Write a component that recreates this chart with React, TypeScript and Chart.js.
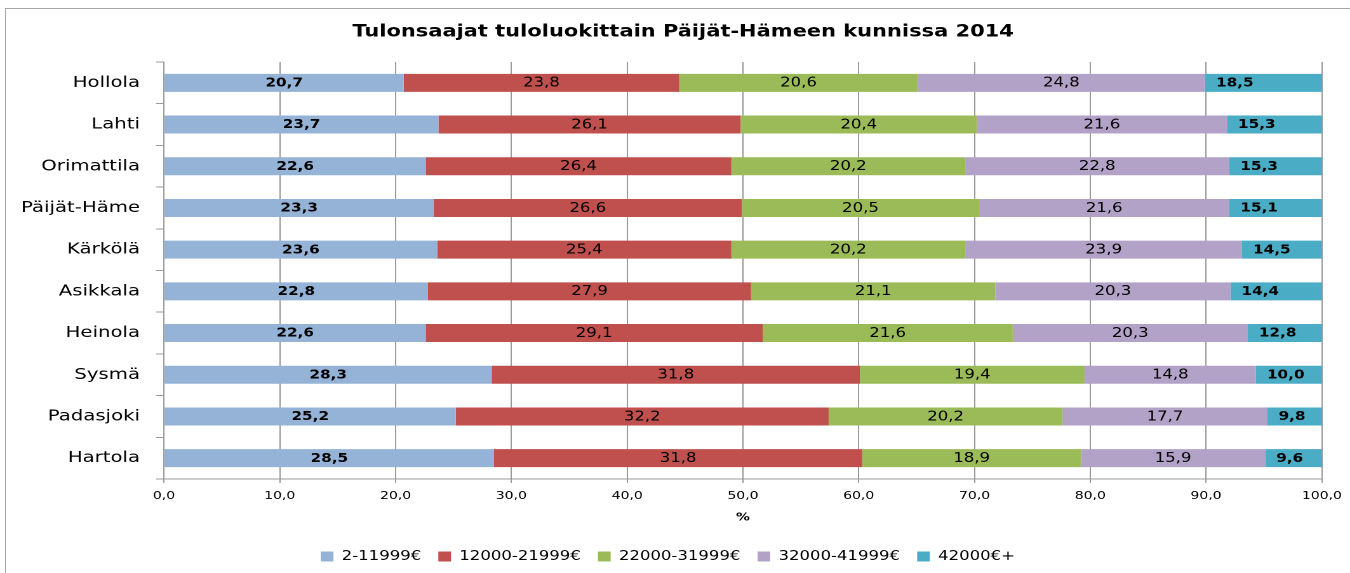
import React, { useEffect, useRef } from 'react';
import { Chart, registerables } from 'chart.js';

Chart.register(...registerables);

// ---- data ----
const categories = ['Hollola', 'Lahti', 'Orimattila', 'Päijät-Häme', 'Kärkölä', 'Asikkala', 'Heinola', 'Sysmä', 'Padasjoki', 'Hartola'];
const seriesNames = ['2-11999€', '12000-21999€', '22000-31999€', '32000-41999€', '42000€+'];
const series1 = [20.7, 23.7, 22.6, 23.3, 23.6, 22.8, 22.6, 28.3, 25.2, 28.5];
const series2 = [23.8, 26.1, 26.4, 26.6, 25.4, 27.9, 29.1, 31.8, 32.2, 31.8];
const series3 = [20.6, 20.4, 20.2, 20.5, 20.2, 21.1, 21.6, 19.4, 20.2, 18.9];
const series4 = [24.8, 21.6, 22.8, 21.6, 23.9, 20.3, 20.3, 14.8, 17.7, 15.9];
const series5 = [18.5, 15.3, 15.3, 15.1, 14.5, 14.4, 12.8, 10.0, 9.8, 9.6];
const chartTitle = 'Tulonsaajat tuloluokittain Päijät-Hämeen kunnissa 2014';
const xAxisTitle = '%';
const xMin = 0;
const xMax = 100;
const xStep = 10;

const seriesColors = ['#95B3D7', '#C0504D', '#9BBB59', '#B3A2C7', '#4BACC6'];
const boldLabelSeries = [true, false, false, false, true];
const baseAlignedSeries = [false, false, false, false, true];

// horizontal stretch of the original picture
const STRETCH = 1.27;
const W = 1350 / STRETCH;
const H = 573;
const FONT = "'DejaVu Sans', sans-serif";

const fmt = (v: number) => v.toFixed(1).replace('.', ',');

const labelPlugin = {
  id: 'segLabels',
  afterDatasetsDraw(chart: any) {
    const { ctx, chartArea } = chart;
    ctx.save();
    chart.data.datasets.forEach((ds: any, di: number) => {
      const meta = chart.getDatasetMeta(di);
      if (meta.hidden) return;
      meta.data.forEach((el: any, i: number) => {
        const v = ds.data[i];
        const x0 = Math.max(Math.min(el.base, el.x), chartArea.left);
        const x1 = Math.min(Math.max(el.base, el.x), chartArea.right);
        if (x1 <= x0) return;
        const bold = boldLabelSeries[di];
        ctx.font = bold ? `bold 12px ${FONT}` : `13px ${FONT}`;
        ctx.fillStyle = '#000';
        ctx.textBaseline = 'middle';
        if (baseAlignedSeries[di]) {
          ctx.textAlign = 'left';
          ctx.fillText(fmt(v), x0 + 8.7, el.y + 0.5);
        } else {
          ctx.textAlign = 'center';
          ctx.fillText(fmt(v), (x0 + x1) / 2, el.y + 0.5);
        }
      });
    });
    ctx.restore();
  },
};

// nudge the title and legend horizontally to match the original's centring
const shiftPlugin = {
  id: 'boxShift',
  afterLayout(chart: any) {
    const t = chart.titleBlock;
    if (t) { t.left += 17; t.right += 17; }
    const l = chart.legend;
    if (l) { l.left += 5; l.right += 5; }
  },
};

export default function App() {
  const canvasRef = useRef<HTMLCanvasElement | null>(null);

  useEffect(() => {
    if (!canvasRef.current) return;
    Chart.defaults.font.family = FONT;
    const allSeries = [series1, series2, series3, series4, series5];
    const chart = new Chart(canvasRef.current, {
      type: 'bar',
      data: {
        labels: categories,
        datasets: allSeries.map((d, i) => ({
          label: seriesNames[i],
          data: d,
          backgroundColor: seriesColors[i],
          borderWidth: 0,
          barPercentage: 0.432,
          categoryPercentage: 1,
          clip: 0,
        })),
      },
      options: {
        indexAxis: 'y',
        responsive: false,
        animation: false,
        devicePixelRatio: 2,
        layout: { padding: { left: 0, right: W - 1323 / STRETCH, top: 0, bottom: 0 } },
        plugins: {
          title: {
            display: true,
            text: chartTitle,
            color: '#000',
            font: { family: FONT, size: 16.5, weight: 'bold' },
            padding: { top: 22.1, bottom: 20.1 },
          },
          legend: {
            display: true,
            position: 'bottom',
            labels: {
              color: '#000',
              boxWidth: 10,
              boxHeight: 10,
              padding: 13.5,
              font: { family: FONT, size: 13 },
            },
          },
          tooltip: { enabled: false },
        },
        scales: {
          x: {
            stacked: true,
            min: xMin,
            max: xMax,
            ticks: {
              stepSize: xStep,
              color: '#000',
              font: { family: FONT, size: 11 },
              padding: 6.4,
              maxRotation: 0,
              callback: (v: any) => fmt(Number(v)),
            },
            grid: { color: '#9a9a9a', lineWidth: 1, tickLength: 4, drawOnChartArea: true },
            border: { display: true, color: '#9a9a9a' },
            title: {
              display: true,
              text: xAxisTitle,
              color: '#000',
              font: { family: FONT, size: 11, weight: 'bold' },
              padding: { top: 0, bottom: 12.4 },
            },
            afterFit: (s: any) => { s.height = 57.5; },
          },
          y: {
            stacked: true,
            ticks: {
              color: '#000',
              font: { family: FONT, size: 15.5 },
              padding: 12.6,
            },
            grid: { color: '#9a9a9a', offset: true, drawOnChartArea: false, tickLength: 6.3 },
            border: { display: true, color: '#9a9a9a' },
            afterFit: (s: any) => { s.width = 164 / STRETCH; },
          },
        },
      },
      plugins: [labelPlugin, shiftPlugin],
    } as any);
    return () => chart.destroy();
  }, []);

  return (
    <div style={{ position: 'fixed', left: 0, top: 0, width: 1350, height: 573, overflow: 'hidden', background: '#fff' }}>
      <div style={{ position: 'absolute', left: 5, top: 8, right: -2, bottom: -2, borderLeft: '1px solid #a6a6a6', borderTop: '1px solid #a6a6a6' }} />
      <div style={{ position: 'absolute', left: 0, top: 0, width: W, height: H, transform: `scaleX(${STRETCH})`, transformOrigin: '0 0' }}>
        <canvas ref={canvasRef} width={Math.round(W)} height={H} style={{ width: Math.round(W), height: H, display: 'block' }} />
      </div>
    </div>
  );
}
